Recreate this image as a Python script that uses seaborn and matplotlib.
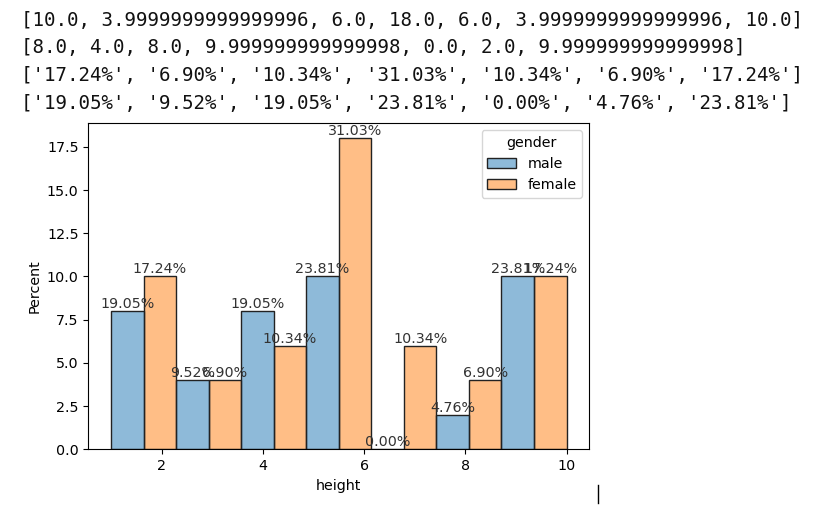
import numpy as np
import pandas as pd
import matplotlib
matplotlib.use("Agg")
import matplotlib.pyplot as plt
import seaborn as sns
from matplotlib.lines import Line2D

# ---- data ----
genders = ["male", "female"]
height_range = (1.0, 10.0)
n_bins = 7
male_counts = [4, 2, 4, 5, 0, 1, 5]
female_counts = [5, 2, 3, 9, 3, 2, 5]

printed_lines = [
    "[10.0, 3.9999999999999996, 6.0, 18.0, 6.0, 3.9999999999999996, 10.0]",
    "[8.0, 4.0, 8.0, 9.999999999999998, 0.0, 2.0, 9.999999999999998]",
    "['17.24%', '6.90%', '10.34%', '31.03%', '10.34%', '6.90%', '17.24%']",
    "['19.05%', '9.52%', '19.05%', '23.81%', '0.00%', '4.76%', '23.81%']",
]

# ---- build weighted table ----
edges = np.linspace(height_range[0], height_range[1], n_bins + 1)
centers = (edges[:-1] + edges[1:]) / 2
rows = []
for g, counts in zip(genders, [male_counts, female_counts]):
    for c, n in zip(centers, counts):
        rows.append({"gender": g, "height": c, "n": n})
df = pd.DataFrame(rows)

FS = 10.3
plt.rcParams["font.size"] = FS
plt.rcParams["legend.fontsize"] = FS
plt.rcParams["legend.title_fontsize"] = FS

W, H = 832, 505
fig = plt.figure(figsize=(W / 100, H / 100), dpi=100)
ax = fig.add_axes([88.3 / W, 1 - 449.3 / H, (589.3 - 88.3) / W, (449.3 - 122.7) / H])

sns.histplot(data=df, x="height", hue="gender", weights="n",
             bins=n_bins, binrange=height_range,
             multiple="dodge", stat="percent", common_norm=True,
             hue_order=genders, palette=["#1f77b4", "#ff7f0e"],
             alpha=0.5, edgecolor="#222222", linewidth=1.0, ax=ax)

# bar labels: percent within each gender
label_sets = {}
for g, counts in zip(genders, [male_counts, female_counts]):
    tot = sum(counts)
    label_sets[g] = [f"{c / tot * 100:.2f}%" for c in counts]
for cont in ax.containers:
    first_x = min(p.get_x() for p in cont)
    g = "male" if abs(first_x - edges[0]) < 1e-6 else "female"
    ax.bar_label(cont, labels=label_sets[g], fontsize=FS, color="#333333")

ax.set_xlabel("height", fontsize=FS)
ax.set_ylabel("Percent", fontsize=FS)
ax.tick_params(labelsize=FS)

# printed notebook output above the chart
baselines = [26, 53.5, 81, 108.5]
for line, yb in zip(printed_lines, baselines):
    fig.text(21 / W, 1 - yb / H, line, family="DejaVu Sans Mono",
             fontsize=13.75, color="#111111", va="baseline", ha="left")

# notebook text cursor
fig.add_artist(Line2D([598 / W, 598 / W], [1 - 485 / H, 1 - 503 / H],
                      color="black", linewidth=1.0, transform=fig.transFigure))

fig.savefig("out.png", dpi=100, facecolor="white")
